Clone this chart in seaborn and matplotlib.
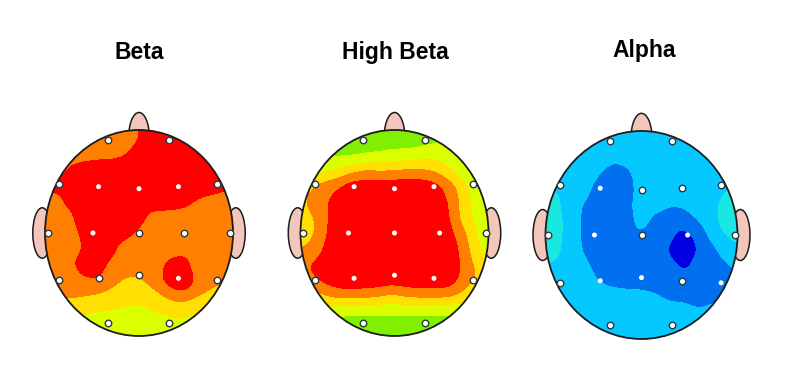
import matplotlib
matplotlib.use('Agg')
import numpy as np
import pandas as pd
import matplotlib.pyplot as plt
import matplotlib.tri as mtri
from matplotlib.patches import Ellipse
import seaborn as sns

titles = ['Beta', 'High Beta', 'Alpha']

# grid nodes of the values below, head radius = 1
grid_x = [-1.05, -0.9, -0.75, -0.6, -0.45, -0.3, -0.15, 0, 0.15, 0.3, 0.45, 0.6, 0.75, 0.9, 1.05]
grid_y = [1.05, 0.9, 0.75, 0.6, 0.45, 0.3, 0.15, 0, -0.15, -0.3, -0.45, -0.6, -0.75, -0.9, -1.05]

# band index: 0 dark blue ... 8 red
beta_vals = [
    [7, 7, 7, 7, 7, 7, 7, 7.5, 8, 8, 8, 8, 8, 8, 8],
    [7, 7, 7, 7, 7, 7, 7, 7.5, 8, 8, 8, 8, 8, 8, 8],
    [7, 7, 7, 7.17, 7.3, 7.3, 7.45, 8, 8, 8, 8, 8, 8, 8, 8],
    [7, 7, 7.7, 8, 8, 8, 8, 8, 8, 8, 8, 8, 8, 8, 8],
    [7.8, 7.8, 8, 8, 8, 8, 8, 8, 8, 8, 8, 8, 8, 7.7, 7.5],
    [7, 7, 7.8, 8, 8, 8, 8, 8, 8, 8, 7.8, 7.4, 7, 7, 7],
    [7, 7, 7.2, 8, 8, 8, 8, 8, 7.1, 7, 7, 7, 7, 7, 7],
    [7, 7, 7, 7.7, 8, 8, 8, 7.2, 7, 7, 7, 7, 7, 7, 7],
    [7, 7, 7, 7.5, 8, 8, 7, 7, 7, 7, 7, 7, 7, 7, 7],
    [7, 7, 7.3, 7.9, 8, 7.2, 7, 7, 7, 7.6, 8, 7.1, 7, 7, 7],
    [7, 7, 7, 7.4, 7.55, 7, 6.4, 6.3, 7, 7.9, 8.8, 7.3, 7, 6.6, 6.5],
    [6.8, 6.8, 6.6, 6.6, 6.45, 6.1, 6, 6, 6.1, 6.7, 7, 6.7, 6.2, 6, 6],
    [6, 6, 6, 5.7, 5.5, 5.5, 5.3, 5.2, 5.5, 5.7, 6.1, 5.6, 5.9, 6, 6],
    [5.5, 5.5, 5.5, 5, 5, 5, 5, 5, 5, 5, 5, 5, 5.5, 5.5, 5.5],
    [5, 5, 5, 5, 5, 5, 5, 5, 5, 5, 5, 5, 5, 5, 5],
]
high_beta_vals = [
    [4, 4, 4, 4, 4, 4, 4, 4, 4, 4, 4, 4, 4, 4, 4],
    [4, 4, 4, 4, 4, 4, 4, 4.1, 4, 4.1, 4.3, 4.5, 4.5, 4.5, 4.5],
    [4, 4, 4.3, 4.3, 4.3, 4.5, 4.6, 4.8, 4.9, 5.1, 5.2, 5, 5, 5, 5],
    [5, 5, 5.3, 5.6, 6.3, 6.7, 6.5, 6.6, 6.7, 6.7, 6.4, 5.5, 5, 5, 5],
    [6, 6.3, 7, 7.5, 8.2, 8.2, 8.2, 8.2, 8.2, 8.2, 7.9, 7, 5.6, 5, 5],
    [6, 6.7, 7.3, 8, 8, 8, 8, 8, 8, 8, 8, 7.4, 5.7, 5.1, 5],
    [6, 6.1, 7.3, 8, 8, 8, 8, 8, 8, 8, 8, 7.5, 5.8, 5, 5],
    [6, 6, 7.4, 8, 8, 8, 8, 8, 8, 8, 8, 7.8, 6.6, 5.1, 5],
    [6.5, 6.6, 7.6, 8, 8, 8, 8, 8, 8, 8, 8, 8, 7, 5.4, 5],
    [7, 7.6, 8, 8, 8, 8, 8, 8, 8, 8, 8, 8, 7.2, 6, 5.5],
    [7, 7.3, 7.8, 8.3, 8.3, 8.3, 8.2, 8.1, 8.2, 8.3, 8.3, 8.1, 7, 6.3, 6],
    [6, 6, 6.5, 6.9, 7, 6.9, 6.7, 6.4, 6.8, 6.9, 6.9, 6.8, 6.2, 5.5, 5],
    [5, 5, 5, 4.8, 4.7, 4.7, 4.7, 4.7, 4.7, 4.7, 4.7, 4.7, 5, 5, 5],
    [4, 4, 4, 4, 4, 4, 4, 4, 4, 4, 4, 4, 4, 4, 4],
    [4, 4, 4, 4, 4, 4, 4, 4, 4, 4, 4, 4, 4, 4, 4],
]
alpha_vals = [
    [2, 2, 2, 2, 2, 2, 2, 2, 2, 2, 2, 2, 2, 2, 2],
    [2, 2, 2, 2, 2, 2, 2, 2, 2, 2, 2, 2, 2, 2, 2],
    [2, 2, 2, 2, 2, 1.9, 2, 2, 2, 2, 2, 2, 2, 2, 2],
    [2, 2, 2, 2, 1.6, 0.8, 1.3, 2, 2, 2, 2, 2, 2, 2, 2],
    [2.5, 2.5, 2, 1.9, 1, 1, 1, 2, 2, 2, 2, 2, 2, 2.5, 2.5],
    [3, 2.8, 2, 1.4, 1, 1, 1.2, 2, 2, 1.6, 1.7, 2, 2.3, 2.9, 3],
    [3, 3, 2, 1.3, 1, 1, 1, 2, 1.2, 1, 1, 1.6, 2.3, 3, 3],
    [3, 3, 2, 1.3, 1, 1, 1, 1.4, 1, 0.7, 0.1, 0.9, 2, 2.6, 3],
    [3, 2.8, 2, 1.4, 1, 1, 1, 1, 1, 0.3, -0.5, 0.7, 1.2, 2, 2],
    [2.5, 2.3, 2, 1.9, 1, 1, 1, 1, 1, 0.8, 0.3, 0.9, 1, 1.3, 2],
    [2, 2, 2, 2, 1.5, 1, 1, 1, 1, 1, 1, 1, 1, 1, 1.5],
    [2, 2, 2, 2, 2, 2.2, 2, 2, 1.7, 1.3, 1.2, 1, 1.3, 1.5, 2],
    [2, 2, 2, 2, 2, 2, 2, 2, 2, 2, 2, 1.7, 1.8, 2, 2],
    [2, 2, 2, 2, 2, 2, 2, 2, 2, 2, 2, 2, 2, 2, 2],
    [2, 2, 2, 2, 2, 2, 2, 2, 2, 2, 2, 2, 2, 2, 2],
]

elec_x = [-0.33, 0.32, -0.85, -0.43, 0, 0.42, 0.83, -0.97, -0.49, 0, 0.48, 0.97, -0.85, -0.43, 0, 0.42, 0.83, -0.33, 0.32]
elec_y = [0.9, 0.9, 0.48, 0.45, 0.43, 0.45, 0.48, 0, 0, 0, 0, 0, -0.46, -0.44, -0.41, -0.44, -0.46, -0.87, -0.87]
beta_ring = [1, 1, 1, 0, 0, 0, 1, 1, 0, 1, 1, 1, 1, 1, 1, 0, 1, 1, 1]
high_beta_ring = [1, 1, 1, 0, 0, 0, 1, 1, 0, 0, 0, 1, 1, 0, 0, 0, 1, 1, 1]
alpha_ring = [1, 1, 1, 0, 1, 1, 1, 1, 0, 1, 0, 1, 1, 0, 0, 1, 0, 1, 1]

band_colors = ['#0000e0', '#0070f0', '#04c8ff', '#18e8e0', '#80f000', '#dcff00', '#ffe000', '#ff8000', '#ff0000']
band_edges = [-99, 0.5, 1.5, 2.5, 3.5, 4.5, 5.5, 6.5, 7.5, 99]

# centre and radii of each head in pixels
head_px = [(139, 233, 94, 103), (394.5, 233, 94, 103), (641.5, 235, 96, 104)]
title_px = [(139, 59), (395, 59), (644, 57)]
SKIN = '#f3c6bb'
LINE = '#1c1c1c'
W, H = 800, 388
SMOOTH = 0.05

sns.set_theme(style='white')
plt.rcParams['font.family'] = ['Liberation Sans', 'DejaVu Sans']

fig = plt.figure(figsize=(W / 100, H / 100), dpi=100, facecolor='white')


def smooth_field(vals):
    # read values on a coarse grid -> soft contours like the original map
    xx, yy = np.meshgrid(grid_x, grid_y)
    tri = mtri.Triangulation(xx.ravel(), yy.ravel())
    interp = mtri.LinearTriInterpolator(tri, np.array(vals, dtype=float).ravel())
    fx = np.linspace(-1.05, 1.05, 211)
    fy = np.linspace(-1.05, 1.05, 211)
    fxx, fyy = np.meshgrid(fx, fy)
    z = np.ma.filled(interp(fxx, fyy), 5.0)
    half = int(3 * SMOOTH / 0.01)
    k = np.exp(-0.5 * (np.arange(-half, half + 1) * 0.01 / SMOOTH) ** 2)
    k = k / k.sum()
    z = np.pad(z, half, mode='edge')
    z = np.apply_along_axis(lambda r: np.convolve(r, k, mode='valid'), 0, z)
    z = np.apply_along_axis(lambda r: np.convolve(r, k, mode='valid'), 1, z)
    return fxx, fyy, z


def draw_head(cx, cy, rx, ry, vals, ring):
    ax = fig.add_axes([(cx - 1.3 * rx) / W, 1 - (cy + 1.3 * ry) / H, 2.6 * rx / W, 2.6 * ry / H])
    ax.set_xlim(-1.3, 1.3)
    ax.set_ylim(-1.3, 1.3)
    ax.axis('off')

    # nose and ears sit behind the head
    ax.add_patch(Ellipse((0, 0.93), 0.22, 0.48, fc=SKIN, ec=LINE, lw=1.1, zorder=1))
    ax.add_patch(Ellipse((-1.03, 0), 0.2, 0.49, fc=SKIN, ec=LINE, lw=1.1, zorder=1))
    ax.add_patch(Ellipse((1.03, 0), 0.2, 0.49, fc=SKIN, ec=LINE, lw=1.1, zorder=1))
    face = Ellipse((0, 0), 2, 2, fc='white', ec='none', zorder=2)
    ax.add_patch(face)

    fxx, fyy, z = smooth_field(vals)
    cs = ax.contourf(fxx, fyy, z, levels=band_edges, colors=band_colors, zorder=3)
    cs.set_clip_path(face)

    ax.add_patch(Ellipse((0, 0), 2, 2, fc='none', ec=LINE, lw=1.3, zorder=4))

    df = pd.DataFrame({'x': elec_x, 'y': elec_y, 'ring': ring})
    sns.scatterplot(data=df[df['ring'] == 0], x='x', y='y', ax=ax, s=13, color='white',
                    edgecolor='none', legend=False, zorder=5, clip_on=False)
    sns.scatterplot(data=df[df['ring'] == 1], x='x', y='y', ax=ax, s=22, color='white',
                    edgecolor='#2a3a40', linewidth=1.0, legend=False, zorder=5, clip_on=False)
    ax.set_xlabel('')
    ax.set_ylabel('')


all_vals = [beta_vals, high_beta_vals, alpha_vals]
all_rings = [beta_ring, high_beta_ring, alpha_ring]
for i in range(3):
    draw_head(*head_px[i], all_vals[i], all_rings[i])
    fig.text(title_px[i][0] / W, 1 - title_px[i][1] / H, titles[i], ha='center', va='baseline',
             fontsize=16.5, fontweight='bold', color='black')

fig.savefig('out.png', dpi=100, facecolor='white')
